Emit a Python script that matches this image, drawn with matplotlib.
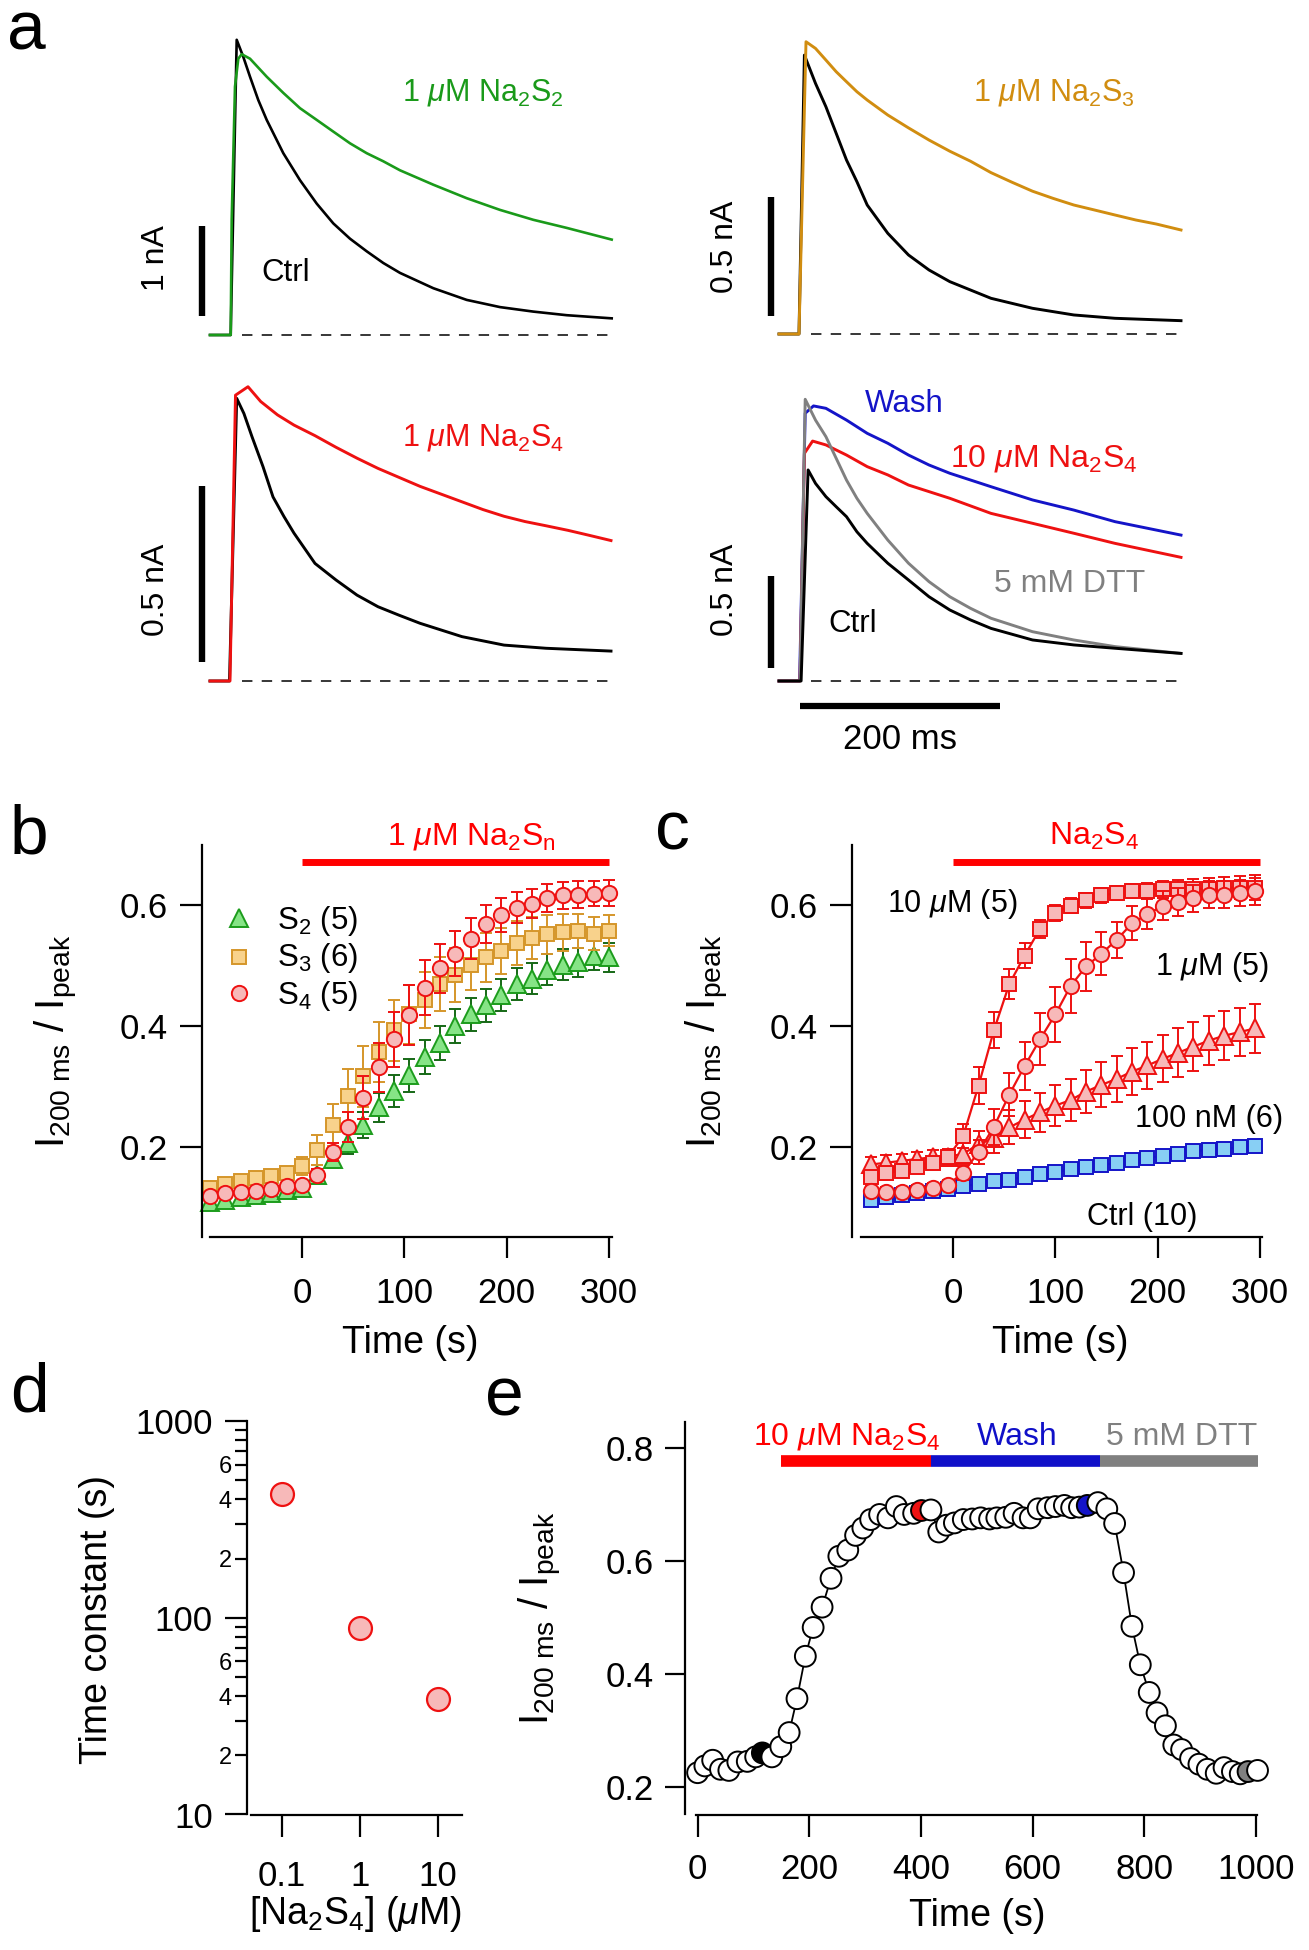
import matplotlib
matplotlib.use('Agg')
import matplotlib.pyplot as plt
from matplotlib.ticker import FixedLocator, FixedFormatter, NullLocator

W, H = 1309, 1950
SANS = 'Liberation Sans'

plt.rcParams['font.family'] = SANS
plt.rcParams['mathtext.fontset'] = 'custom'
plt.rcParams['mathtext.rm'] = SANS
plt.rcParams['mathtext.it'] = SANS + ':italic'
plt.rcParams['mathtext.bf'] = SANS + ':bold'
plt.rcParams['lines.scale_dashes'] = False

# ---------------- panel a: current traces (ms, nA) ----------------
tl_t_ctrl = [-20, 0.7, 6.7, 13.3, 20, 28.3, 36.7, 53.3, 70, 86.7, 103.3, 120, 136.7, 153.3, 170,
             203.3, 236.7, 270, 303.3, 336.7, 381.7]
tl_i_ctrl = [0, 0, 3.28, 3.09, 2.87, 2.61, 2.39, 2.02, 1.72, 1.46, 1.24, 1.07, 0.93, 0.80, 0.69,
             0.52, 0.39, 0.31, 0.26, 0.22, 0.185]
tl_t_s2 = [-20, 0.7, 1.7, 5, 8.3, 11.7, 20, 36.7, 53.3, 70, 86.7, 103.3, 120, 136.7, 153.3, 170,
           203.3, 236.7, 270, 303.3, 336.7, 381.7]
tl_i_s2 = [0, 0, 1.28, 2.76, 3.07, 3.12, 3.07, 2.87, 2.69, 2.52, 2.39, 2.26, 2.13, 2.02, 1.93, 1.83,
           1.67, 1.52, 1.39, 1.28, 1.19, 1.06]

tr_t_ctrl = [-20, 0, 5.4, 16.5, 26.9, 37.2, 47.5, 57.9, 68.2, 88.8, 109.5, 130, 150.8, 192, 233.5,
             274.8, 316, 382]
tr_i_ctrl = [0, 0, 1.172, 1.053, 0.955, 0.843, 0.731, 0.640, 0.542, 0.423, 0.332, 0.269, 0.220,
             0.150, 0.108, 0.080, 0.066, 0.056]
tr_t_s3 = [-20, 0, 7, 16.5, 26.9, 37.2, 47.5, 57.9, 68.2, 88.8, 109.5, 130, 150.8, 171.5, 192,
           212.8, 233.5, 254, 274.8, 295.5, 316, 336.8, 357.4, 382]
tr_i_s3 = [0, 0, 1.228, 1.20, 1.151, 1.102, 1.060, 1.018, 0.983, 0.920, 0.866, 0.815, 0.768, 0.726,
           0.678, 0.638, 0.600, 0.570, 0.542, 0.521, 0.500, 0.479, 0.462, 0.437]

bl_t_ctrl = [-20, -0.5, 6.7, 13.9, 22, 33, 43, 54, 64, 85, 106, 127, 148, 169, 190, 232, 274, 316, 381]
bl_i_ctrl = [0, 0, 0.803, 0.760, 0.694, 0.609, 0.523, 0.467, 0.420, 0.334, 0.287, 0.244, 0.211,
             0.187, 0.164, 0.126, 0.102, 0.093, 0.085]
bl_t_s4 = [-20, 0, 5.5, 18, 30.7, 47.5, 64, 85, 106, 127, 148, 190, 211, 232, 253, 274, 295, 316,
           338, 359, 381]
bl_i_s4 = [0, 0, 0.812, 0.836, 0.794, 0.756, 0.727, 0.697, 0.664, 0.633, 0.604, 0.553, 0.531, 0.509,
           0.487, 0.468, 0.453, 0.441, 0.428, 0.414, 0.399]

br_t_ctrl = [-20, 2.1, 9.1, 16.5, 26.9, 37.2, 47.5, 57.9, 68.2, 88.8, 109.5, 130, 150.8, 171.5, 192,
             233.5, 274.8, 316, 382]
br_i_ctrl = [0, 0, 1.147, 1.074, 1.002, 0.947, 0.893, 0.811, 0.748, 0.640, 0.549, 0.458, 0.386,
             0.332, 0.286, 0.223, 0.196, 0.178, 0.150]
br_t_s4 = [-20, 1, 5.4, 13.6, 26.9, 47.5, 68.2, 88.8, 109.5, 150.8, 192, 233.5, 274.8, 316, 382]
br_i_s4 = [0, 0, 1.237, 1.304, 1.283, 1.228, 1.165, 1.120, 1.065, 0.993, 0.911, 0.857, 0.803, 0.748,
           0.672]
br_t_wash = [-20, 0.6, 6.2, 14.5, 26.9, 47.5, 68.2, 88.8, 109.5, 130, 150.8, 192, 233.5, 274.8, 316,
             382]
br_i_wash = [0, 0, 1.455, 1.495, 1.482, 1.418, 1.346, 1.292, 1.228, 1.174, 1.129, 1.056, 0.984,
             0.929, 0.866, 0.793]
br_t_dtt = [-20, 1, 6.2, 16.5, 26.9, 37.2, 47.5, 57.9, 68.2, 88.8, 109.5, 130, 150.8, 171.5, 192,
            233.5, 274.8, 316, 382]
br_i_dtt = [0, 0, 1.531, 1.418, 1.328, 1.210, 1.092, 0.993, 0.911, 0.766, 0.640, 0.540, 0.458,
            0.395, 0.341, 0.268, 0.223, 0.187, 0.150]

# ---------------- panel b: 1 uM Na2Sn time course ----------------
b_time = [-90, -75, -60, -45, -30, -15, 0, 15, 30, 45, 60, 75, 90, 105, 120,
          135, 150, 165, 180, 195, 210, 225, 240, 255, 270, 285, 300]
b_s2 = [0.111, 0.114, 0.118, 0.121, 0.125, 0.130, 0.134, 0.155, 0.181, 0.208, 0.237, 0.266, 0.293, 0.319,
        0.349, 0.372, 0.400, 0.419, 0.434, 0.451, 0.469, 0.478, 0.493, 0.501, 0.505, 0.516, 0.513]
b_s3 = [0.134, 0.140, 0.145, 0.149, 0.153, 0.158, 0.169, 0.196, 0.237, 0.284, 0.317, 0.357, 0.393, 0.419,
        0.443, 0.469, 0.484, 0.501, 0.513, 0.523, 0.537, 0.545, 0.551, 0.554, 0.556, 0.552, 0.557]
b_s4 = [0.120, 0.125, 0.127, 0.128, 0.131, 0.136, 0.139, 0.155, 0.192, 0.234, 0.282, 0.332, 0.378, 0.418,
        0.463, 0.495, 0.519, 0.544, 0.568, 0.582, 0.595, 0.601, 0.611, 0.615, 0.616, 0.618, 0.619]
b_s2_err = [0.005, 0.005, 0.005, 0.005, 0.005, 0.005, 0.006, 0.010, 0.015, 0.018, 0.022, 0.024, 0.026, 0.027,
            0.028, 0.028, 0.028, 0.027, 0.027, 0.026, 0.026, 0.025, 0.025, 0.025, 0.024, 0.024, 0.024]
b_s3_err = [0.008, 0.008, 0.008, 0.008, 0.008, 0.010, 0.015, 0.025, 0.035, 0.045, 0.050, 0.050, 0.050, 0.048,
            0.046, 0.045, 0.044, 0.042, 0.040, 0.038, 0.036, 0.034, 0.032, 0.030, 0.028, 0.027, 0.026]
b_s4_err = [0.005, 0.005, 0.005, 0.005, 0.005, 0.005, 0.006, 0.010, 0.015, 0.025, 0.035, 0.040, 0.045, 0.050,
            0.045, 0.040, 0.037, 0.034, 0.031, 0.028, 0.026, 0.024, 0.023, 0.022, 0.022, 0.021, 0.021]
b_labels = ['S$_2$ (5)', 'S$_3$ (6)', 'S$_4$ (5)']

# ---------------- panel c: Na2S4 concentrations ----------------
c_time = [-80, -65, -50, -35, -20, -5, 10, 25, 40, 55, 70, 85, 100, 115, 130, 145,
          160, 175, 190, 205, 220, 235, 250, 265, 280, 295]
c_ctrl = [0.114, 0.118, 0.121, 0.125, 0.128, 0.132, 0.136, 0.140, 0.144, 0.147, 0.152, 0.156, 0.159,
          0.164, 0.168, 0.171, 0.175, 0.179, 0.183, 0.186, 0.190, 0.194, 0.196, 0.198, 0.200, 0.202]
c_100nm = [0.172, 0.175, 0.178, 0.181, 0.184, 0.184, 0.190, 0.205, 0.216, 0.233, 0.246, 0.258, 0.269,
           0.278, 0.292, 0.303, 0.313, 0.325, 0.335, 0.346, 0.356, 0.366, 0.376, 0.384, 0.390, 0.396]
c_1um = [0.128, 0.127, 0.127, 0.130, 0.133, 0.139, 0.158, 0.193, 0.234, 0.287, 0.334, 0.378, 0.419,
         0.466, 0.498, 0.519, 0.542, 0.569, 0.584, 0.598, 0.604, 0.610, 0.616, 0.616, 0.619, 0.622]
c_10um = [0.152, 0.158, 0.162, 0.168, 0.174, 0.184, 0.219, 0.302, 0.393, 0.469, 0.516, 0.560, 0.586,
          0.598, 0.607, 0.615, 0.619, 0.622, 0.623, 0.625, 0.626, 0.626, 0.626, 0.628, 0.628, 0.628]
c_ctrl_err = [0.004] * 26
c_100nm_err = [0.012, 0.012, 0.012, 0.012, 0.012, 0.014, 0.018, 0.022, 0.025, 0.028, 0.030, 0.032, 0.034,
               0.035, 0.036, 0.037, 0.038, 0.038, 0.039, 0.039, 0.040, 0.040, 0.040, 0.040, 0.040, 0.040]
c_1um_err = [0.008, 0.008, 0.008, 0.008, 0.008, 0.008, 0.012, 0.020, 0.030, 0.035, 0.040, 0.043, 0.045,
             0.045, 0.040, 0.035, 0.030, 0.028, 0.025, 0.024, 0.023, 0.022, 0.022, 0.022, 0.022, 0.022]
c_10um_err = [0.010, 0.010, 0.010, 0.010, 0.010, 0.012, 0.020, 0.030, 0.030, 0.025, 0.020, 0.015, 0.013,
              0.012, 0.012, 0.012, 0.012, 0.012, 0.013, 0.014, 0.015, 0.016, 0.017, 0.018, 0.019, 0.020]

# ---------------- panel d: time constants ----------------
d_conc = [0.1, 1, 10]
d_tau = [427, 89, 38.5]

# ---------------- panel e: single cell time course ----------------
e_time = [0, 13, 27, 41, 56, 72, 89, 104, 116, 133, 149, 164, 178, 193, 207, 223, 239, 253, 269, 283,
          296, 310, 326, 341, 356, 370, 387, 401, 418, 432, 446, 460, 476, 492, 507, 523, 536, 552,
          567, 583, 596, 610, 627, 641, 657, 670, 684, 698, 717, 733, 747, 763, 778, 793, 809, 823,
          838, 853, 867, 883, 898, 913, 929, 943, 958, 972, 986, 1003]
e_ratio = [0.226, 0.238, 0.248, 0.232, 0.230, 0.245, 0.246, 0.254, 0.261, 0.254, 0.272, 0.297, 0.357,
           0.432, 0.483, 0.519, 0.570, 0.609, 0.620, 0.646, 0.659, 0.674, 0.683, 0.677, 0.697, 0.683,
           0.685, 0.690, 0.691, 0.652, 0.664, 0.668, 0.674, 0.675, 0.677, 0.675, 0.677, 0.678, 0.685,
           0.677, 0.677, 0.693, 0.695, 0.697, 0.699, 0.695, 0.696, 0.699, 0.704, 0.693, 0.667, 0.580,
           0.485, 0.417, 0.368, 0.332, 0.309, 0.275, 0.267, 0.251, 0.241, 0.232, 0.225, 0.235, 0.228,
           0.224, 0.228, 0.230]
e_marked = {8: 'black', 27: '#ee1111', 47: '#1414c8', 66: '#808080'}
e_periods = [(150, 418, '#ff0000'), (418, 720, '#1010c8'), (720, 1004, '#808080')]

GREEN = '#1a9a1a'
ORANGE = '#d18d10'
RED = '#ee1111'
BLUE = '#1414c8'
GRAY = '#808080'
PX_MS = 1.0

fig = plt.figure(figsize=(W / 100, H / 100), dpi=100)


def px_axes(l, t, r, b):
    return fig.add_axes([l / W, 1 - b / H, (r - l) / W, (b - t) / H])


def ftext(x, y, s, **kw):
    return fig.text(x / W, 1 - y / H, s, **kw)


def trace_axes(x0, y0, px_na, i_lo, i_hi, t_lo=-90, t_hi=395):
    ax = px_axes(x0 + t_lo * PX_MS, y0 - i_hi * px_na, x0 + t_hi * PX_MS, y0 - i_lo * px_na)
    ax.set_xlim(t_lo, t_hi)
    ax.set_ylim(i_lo, i_hi)
    ax.axis('off')
    return ax


def baseline(ax, bar_lo, bar_hi, label, label_i):
    ax.plot([12, 382], [0, 0], color='black', lw=1.1, dashes=(7.5, 6.7))
    ax.plot([-28, -28], [bar_lo, bar_hi], color='black', lw=4.6, solid_capstyle='butt')
    ax.text(-74, label_i, label, rotation=90, ha='center', va='center', fontsize=23)


# top-left
ax = trace_axes(230, 335, 90, -0.3, 3.6)
ax.plot(tl_t_ctrl, tl_i_ctrl, color='black', lw=1.9)
ax.plot(tl_t_s2, tl_i_s2, color=GREEN, lw=1.9)
baseline(ax, 0.21, 1.21, '1 nA', 0.86)
ax.text(172, 2.60, '1 $\\mu$M Na$_2$S$_2$', color=GREEN, fontsize=22, va='baseline')
ax.text(31.7, 0.60, 'Ctrl', color='black', fontsize=22.5, va='baseline')

# top-right
ax = trace_axes(799, 334, 238, -0.1, 1.35)
ax.plot(tr_t_ctrl, tr_i_ctrl, color='black', lw=2.1)
ax.plot(tr_t_s3, tr_i_s3, color=ORANGE, lw=2.1)
baseline(ax, 0.076, 0.576, '0.5 nA', 0.366)
ax.text(174, 0.979, '1 $\\mu$M Na$_2$S$_3$', color=ORANGE, fontsize=22, va='baseline')

# bottom-left
ax = trace_axes(230, 681, 352, -0.1, 0.9)
ax.plot(bl_t_ctrl, bl_i_ctrl, color='black', lw=2.1)
ax.plot(bl_t_s4, bl_i_s4, color=RED, lw=2.1)
baseline(ax, 0.054, 0.554, '0.5 nA', 0.259)
ax.text(172, 0.668, '1 $\\mu$M Na$_2$S$_4$', color=RED, fontsize=22, va='baseline')

# bottom-right
ax = trace_axes(799, 681, 184, -0.4, 1.7)
ax.plot(br_t_wash, br_i_wash, color=BLUE, lw=2.1)
ax.plot(br_t_s4, br_i_s4, color=RED, lw=2.1)
ax.plot(br_t_dtt, br_i_dtt, color=GRAY, lw=2.1)
ax.plot(br_t_ctrl, br_i_ctrl, color='black', lw=2.1)
baseline(ax, 0.071, 0.571, '0.5 nA', 0.495)
ax.plot([1, 201], [-0.136, -0.136], color='black', lw=4.5, solid_capstyle='butt')
ax.text(101, -0.32, '200 ms', ha='center', va='center', fontsize=25)
ax.text(66, 1.462, 'Wash', color=BLUE, fontsize=22.5, va='baseline')
ax.text(151, 1.168, '10 $\\mu$M Na$_2$S$_4$', color=RED, fontsize=23, va='baseline')
ax.text(195, 0.484, '5 mM DTT', color=GRAY, fontsize=23, va='baseline')
ax.text(29, 0.266, 'Ctrl', color='black', fontsize=22.5, va='baseline')


def style(ax, xlen=15, ylen=16, size=25, xpad=14, ypad=8.6):
    for s in ('top', 'right'):
        ax.spines[s].set_visible(False)
    for s in ('left', 'bottom'):
        ax.spines[s].set_linewidth(1.6)
    ax.tick_params(axis='x', direction='out', width=1.6, length=xlen, labelsize=size, pad=xpad)
    ax.tick_params(axis='y', direction='out', width=1.6, length=ylen, labelsize=size, pad=ypad)
    ax.set_facecolor('none')


YLAB = 'I$_{\\mathregular{200\\ ms}}$ / I$_{\\mathregular{peak}}$'

# ---------------- panel b ----------------
ax = px_axes(202, 845, 615, 1237)
ax.set_xlim(-97.8, 306.0)
ax.set_ylim(0.0526, 0.698)
style(ax)
ax.spines['bottom'].set_bounds(-90, 303)
ax.set_xticks([0, 100, 200, 300])
ax.set_yticks([0.2, 0.4, 0.6])
ax.set_yticklabels(['0.2', '0.4', '0.6'])
b_styles = [
    (b_s2, b_s2_err, '^', '#86e486', '#1c9c1c', '#166816', 13),
    (b_s3, b_s3_err, 's', '#f8d28c', '#d5962a', '#d5962a', 10.5),
    (b_s4, b_s4_err, 'o', '#f7b9b9', RED, RED, 11),
]
for vals, err, mk, fc, ec, errc, ms in b_styles:
    ax.errorbar(b_time, vals, yerr=err, fmt='none', ecolor=errc, elinewidth=1.4, capsize=4.5,
                capthick=1.4, clip_on=False)
    ax.plot(b_time, vals, ls='none', marker=mk, ms=ms, mfc=fc, mec=ec, mew=1.4, clip_on=False)
for (vals, err, mk, fc, ec, errc, ms), lab, ly, ty in zip(b_styles, b_labels, [0.577, 0.514, 0.454],
                                                     [0.5595, 0.498, 0.436]):
    ax.plot([-61.6], [ly], ls='none', marker=mk, ms=ms, mfc=fc, mec=ec, mew=1.4)
    ax.text(-24.4, ty, lab, fontsize=22.5, va='baseline')
ax.plot([0, 300], [0.670, 0.670], color='#ff0000', lw=5, solid_capstyle='butt', clip_on=False)
ax.text(166, 0.698, '1 $\\mu$M Na$_2$S$_\\mathregular{n}$', color='#ff0000', fontsize=23,
        ha='center', va='baseline', clip_on=False)
ftext(57, 1041, YLAB, rotation=90, ha='center', va='center', fontsize=29)
ftext(410, 1343, 'Time (s)', ha='center', va='center', fontsize=27)

# ---------------- panel c ----------------
ax = px_axes(852, 845, 1265, 1237)
ax.set_xlim(-98.7, 304.9)
ax.set_ylim(0.0526, 0.698)
style(ax)
ax.spines['bottom'].set_bounds(-90, 302)
ax.set_xticks([0, 100, 200, 300])
ax.set_yticks([0.2, 0.4, 0.6])
ax.set_yticklabels(['0.2', '0.4', '0.6'])
c_series = [
    (c_ctrl, c_ctrl_err, 's', '#88cff4', BLUE, BLUE, 10.5),
    (c_100nm, c_100nm_err, '^', '#f7b9b9', RED, RED, 12.5),
    (c_10um, c_10um_err, 's', '#f7b9b9', RED, RED, 10.5),
    (c_1um, c_1um_err, 'o', '#f7b9b9', RED, RED, 11),
]
for vals, err, mk, fc, ec, lc, ms in c_series:
    ax.errorbar(c_time, vals, yerr=err, fmt='none', ecolor=ec, elinewidth=1.4, capsize=4.5,
                capthick=1.4, clip_on=False)
    ax.plot(c_time, vals, marker=mk, ms=ms, mfc=fc, mec=ec, mew=1.4, color=lc, lw=1.6, clip_on=False)
ax.plot([0, 300], [0.670, 0.670], color='#ff0000', lw=5, solid_capstyle='butt', clip_on=False)
ax.text(138, 0.698, 'Na$_2$S$_4$', color='#ff0000', fontsize=23, ha='center', va='baseline',
        clip_on=False)
ax.text(-64.5, 0.588, '10 $\\mu$M (5)', fontsize=22, va='baseline')
ax.text(197.4, 0.484, '1 $\\mu$M (5)', fontsize=22, va='baseline')
ax.text(177.9, 0.2335, '100 nM (6)', fontsize=22, va='baseline')
ax.text(131, 0.073, 'Ctrl (10)', fontsize=22, va='baseline')
ftext(707, 1041, YLAB, rotation=90, ha='center', va='center', fontsize=29)
ftext(1060, 1343, 'Time (s)', ha='center', va='center', fontsize=27)

# ---------------- panel d ----------------
ax = px_axes(247, 1421, 465, 1814.5)
ax.set_xscale('log')
ax.set_yscale('log')
ax.set_xlim(10 ** -1.449, 10 ** 1.346)
ax.set_ylim(10, 1000)
style(ax, xlen=16, ylen=16, size=25, xpad=17)
ax.spines['bottom'].set_bounds(10 ** -1.397, 10 ** 1.308)
ax.xaxis.set_major_locator(FixedLocator(d_conc))
ax.xaxis.set_major_formatter(FixedFormatter(['0.1', '1', '10']))
ax.xaxis.set_minor_locator(NullLocator())
ax.yaxis.set_major_locator(FixedLocator([10, 100, 1000]))
ax.yaxis.set_major_formatter(FixedFormatter(['10', '100', '1000']))
minor = [m * d for d in (10, 100) for m in range(2, 10)]
ax.yaxis.set_minor_locator(FixedLocator(minor))
ax.yaxis.set_minor_formatter(FixedFormatter([str(m) if m in (2, 4, 6) else '' for d in (10, 100)
                                             for m in range(2, 10)]))
ax.tick_params(axis='y', which='minor', direction='out', width=1.6, length=9, labelsize=17, pad=2)
ax.plot(d_conc, d_tau, ls='none', marker='o', ms=16.5, mfc='#f7b9b9', mec=RED, mew=1.6, clip_on=False)
ftext(97, 1620, 'Time constant (s)', rotation=90, ha='center', va='center', fontsize=27)
ftext(355, 1914, '[Na$_2$S$_4$] ($\\mu$M)', ha='center', va='center', fontsize=27)

# ---------------- panel e ----------------
ax = px_axes(684.7, 1421.8, 1262, 1814.5)
ax.set_xlim(-23.1, 1011)
ax.set_ylim(0.152, 0.847)
style(ax, xlen=16, ylen=14.4, size=25, xpad=12, ypad=8)
ax.spines['bottom'].set_bounds(-3, 1002)
ax.set_xticks([0, 200, 400, 600, 800, 1000])
ax.set_yticks([0.2, 0.4, 0.6, 0.8])
ax.set_yticklabels(['0.2', '0.4', '0.6', '0.8'])
ax.plot(e_time, e_ratio, color='black', lw=1.3, zorder=2)
e_fc = [e_marked.get(i, 'white') for i in range(len(e_time))]
ax.scatter(e_time, e_ratio, s=15 ** 2, c=e_fc, edgecolors='black', linewidths=1.4, zorder=3,
           clip_on=False)
for t0, t1, col in e_periods:
    ax.plot([t0, t1], [0.778, 0.778], color=col, lw=8.4, solid_capstyle='butt', clip_on=False)
ax.text(99, 0.8066, '10 $\\mu$M Na$_2$S$_4$', color='#ff0000', fontsize=23, va='baseline')
ax.text(500, 0.8066, 'Wash', color='#1010c8', fontsize=23, va='baseline')
ax.text(731, 0.8066, '5 mM DTT', color=GRAY, fontsize=23, va='baseline')
ftext(540, 1618, YLAB, rotation=90, ha='center', va='center', fontsize=29)
ftext(977, 1916, 'Time (s)', ha='center', va='center', fontsize=27)

# panel letters
for letter, x, y in [('a', 7, 50), ('b', 10, 853), ('c', 655, 850), ('d', 10, 1411), ('e', 485, 1415)]:
    ftext(x, y, letter, fontsize=50, va='baseline')

fig.savefig('out.png', dpi=100)
